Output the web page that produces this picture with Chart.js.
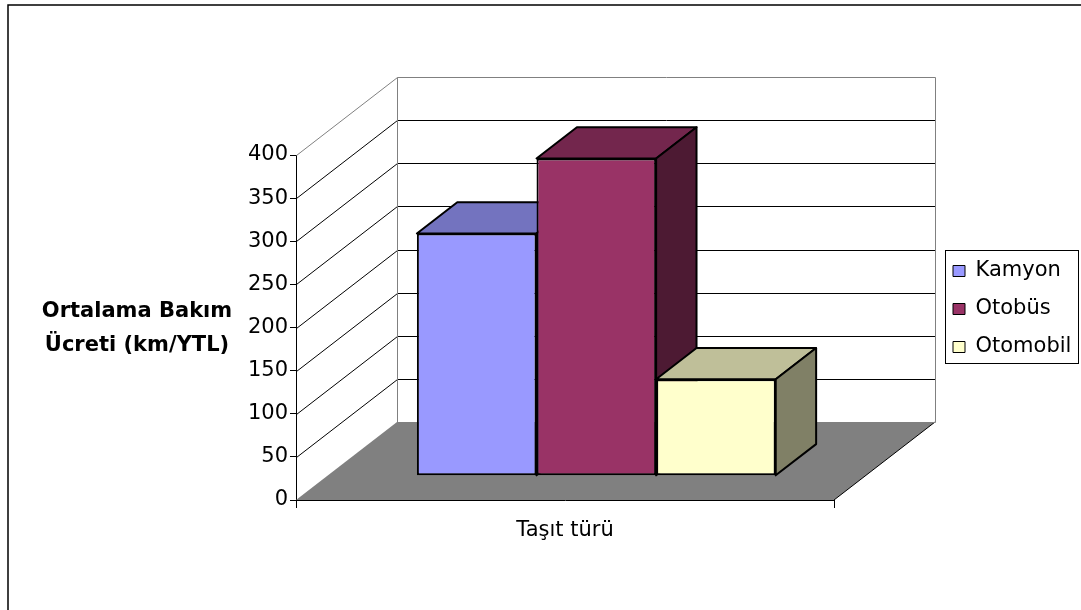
<!DOCTYPE html>
<html lang="tr">
<head>
<meta charset="utf-8">
<title>Ortalama Bakım Ücreti</title>
<script src="https://cdn.jsdelivr.net/npm/chart.js@4.4.1/dist/chart.umd.min.js"></script>
<style>
    html, body { margin: 0; padding: 0; background: #fff; }
    canvas { display: block; }
</style>
</head>
<body>
<canvas id="bakimChart" width="1081" height="610"></canvas>
<script>
// ===== DATA =====
const categories = ['Taşıt türü'];
const seriesNames = ['Kamyon', 'Otobüs', 'Otomobil'];
const kamyonValues = [281];
const otobusValues = [368];
const otomobilValues = [112];
const yTickValues = [0, 50, 100, 150, 200, 250, 300, 350, 400];
const yTitleLines = ['Ortalama Bakım', 'Ücreti (km/YTL)'];

// ===== STYLE =====
const FONT = '"DejaVu Sans", sans-serif';
const FONT_SIZE = 21;
const FACE_COLORS = [
    { front: '#9999ff', top: '#7373bf', side: '#4d4d80' },
    { front: '#993366', top: '#73264d', side: '#4d1a33' },
    { front: '#ffffcc', top: '#bfbf99', side: '#808066' },
];
const DEPTH = { x: 101, y: -78 };   // floor: front edge -> back wall
const BAR_FRONT = 0.31;             // bar front plane, share of depth
const BAR_DEPTH = 0.40;             // bar thickness, share of depth

function fillPoly(ctx, pts, color) {
    ctx.beginPath();
    ctx.moveTo(pts[0][0], pts[0][1]);
    pts.slice(1).forEach(p => ctx.lineTo(p[0], p[1]));
    ctx.closePath();
    ctx.fillStyle = color;
    ctx.fill();
    ctx.stroke();
}

const crisp = v => Math.round(v) + 0.5;

// 3D walls, floor and box faces around the normal bar chart
const box3d = {
    id: 'box3d',
    beforeDraw(chart) {
        const { ctx } = chart;
        ctx.save();
        ctx.strokeStyle = '#000';
        ctx.lineWidth = 1.5;
        ctx.strokeRect(8, 5, chart.width + 20, chart.height + 20);
        ctx.restore();
    },
    afterLayout(chart) {
        // legend goes beside the floor, not against the plot area
        const lg = chart.legend;
        lg.left = 936;
        lg.right = 1081;
        lg.top = 243.5;
        lg.bottom = 440;
        lg.width = lg.right - lg.left;
        lg.height = lg.bottom - lg.top;
    },
    beforeDatasetsDraw(chart) {
        const { ctx, chartArea: a } = chart;
        const ys = chart.scales.y;
        const dx = DEPTH.x, dy = DEPTH.y;
        const top = crisp(ys.getPixelForValue(yTickValues[yTickValues.length - 1]));
        const bottom = ys.getPixelForValue(yTickValues[0]);
        const left = crisp(a.left), right = crisp(a.right);

        ctx.save();
        // floor
        ctx.fillStyle = '#808080';
        ctx.beginPath();
        ctx.moveTo(a.left, bottom);
        ctx.lineTo(a.right, bottom);
        ctx.lineTo(a.right + dx, bottom + dy);
        ctx.lineTo(a.left + dx, bottom + dy);
        ctx.closePath();
        ctx.fill();

        ctx.strokeStyle = '#000';
        ctx.lineWidth = 1;
        ctx.beginPath();
        ctx.moveTo(a.right, bottom);
        ctx.lineTo(a.right + dx, bottom + dy);
        ctx.stroke();

        // grid lines: side wall diagonals + back wall
        yTickValues.slice(1, -1).forEach(v => {
            const py = crisp(ys.getPixelForValue(v));
            ctx.beginPath();
            ctx.moveTo(left, py);
            ctx.lineTo(left + dx, py + dy);
            ctx.lineTo(right + dx, py + dy);
            ctx.stroke();
        });

        // wall edges
        ctx.strokeStyle = '#808080';
        ctx.beginPath();
        ctx.moveTo(left, top);
        ctx.lineTo(left + dx, top + dy);
        ctx.lineTo(right + dx, top + dy);
        ctx.lineTo(right + dx, crisp(bottom) + dy);
        ctx.lineTo(left + dx, crisp(bottom) + dy);
        ctx.lineTo(left + dx, top + dy);
        ctx.stroke();
        ctx.restore();
    },
    // bars are drawn below, one box at a time, left to right
    beforeDatasetDraw() {
        return false;
    },
    afterDatasetsDraw(chart) {
        const { ctx } = chart;
        const fx = DEPTH.x * BAR_FRONT, fy = DEPTH.y * BAR_FRONT;
        const bx = DEPTH.x * BAR_DEPTH, by = DEPTH.y * BAR_DEPTH;

        chart.data.datasets.forEach((ds, i) => {
            const bar = chart.getDatasetMeta(i).data[0];
            const { x, y, base, width } = bar.getProps(['x', 'y', 'base', 'width'], true);
            const l = x - width / 2, r = x + width / 2;
            ctx.save();
            ctx.translate(fx, fy);
            bar.draw(ctx);
            ctx.strokeStyle = '#000';
            ctx.lineWidth = 2;
            ctx.lineJoin = 'round';
            fillPoly(ctx, [[l, y], [r, y], [r + bx, y + by], [l + bx, y + by]], FACE_COLORS[i].top);
            fillPoly(ctx, [[r, y], [r + bx, y + by], [r + bx, base + by], [r, base]], FACE_COLORS[i].side);
            ctx.restore();
        });
    },
    afterDraw(chart) {
        const { ctx } = chart;
        const lg = chart.legend;
        ctx.save();
        // legend frame
        ctx.strokeStyle = '#000';
        ctx.lineWidth = 1;
        ctx.strokeRect(crisp(lg.left + 9), crisp(lg.top + 6), 133, 113);

        // value axis title, horizontal, two lines
        ctx.fillStyle = '#000';
        ctx.font = 'bold ' + FONT_SIZE + 'px ' + FONT;
        ctx.textAlign = 'center';
        ctx.textBaseline = 'middle';
        yTitleLines.forEach((line, i) => ctx.fillText(line, 137, 312 + i * 34));
        ctx.restore();
    }
};

new Chart(document.getElementById('bakimChart'), {
    type: 'bar',
    data: {
        labels: categories,
        datasets: [kamyonValues, otobusValues, otomobilValues].map((data, i) => ({
            label: seriesNames[i],
            data: data,
            backgroundColor: FACE_COLORS[i].front,
            borderColor: '#000',
            borderWidth: 2,
            borderSkipped: false,
            categoryPercentage: 0.667,
            barPercentage: 1,
        }))
    },
    options: {
        responsive: false,
        animation: false,
        layout: { padding: { top: 155, left: 0, right: 147, bottom: 0 } },
        plugins: {
            legend: {
                position: 'right',
                align: 'start',
                maxWidth: 100,
                labels: {
                    font: { family: FONT, size: FONT_SIZE },
                    color: '#000',
                    boxWidth: 12,
                    boxHeight: 11,
                    padding: 17,
                    generateLabels: (chart) => Chart.defaults.plugins.legend.labels.generateLabels(chart)
                        .map(item => ({ ...item, lineWidth: 1 })),
                }
            },
            tooltip: { enabled: false }
        },
        scales: {
            x: {
                grid: { drawOnChartArea: false, tickLength: 8, color: '#000', offset: true },
                border: { color: '#000', width: 1 },
                ticks: { font: { family: FONT, size: FONT_SIZE }, color: '#000', padding: 10 },
                afterFit: (s) => { s.height = 110; }
            },
            y: {
                min: yTickValues[0],
                max: yTickValues[yTickValues.length - 1],
                afterBuildTicks: (s) => { s.ticks = yTickValues.map(v => ({ value: v })); },
                grid: { drawOnChartArea: false, tickLength: 6, color: '#000' },
                border: { color: '#000', width: 1 },
                ticks: { font: { family: FONT, size: FONT_SIZE }, color: '#000', padding: 2 },
                afterFit: (s) => { s.width = 296; }
            }
        }
    },
    plugins: [box3d]
});
</script>
</body>
</html>
